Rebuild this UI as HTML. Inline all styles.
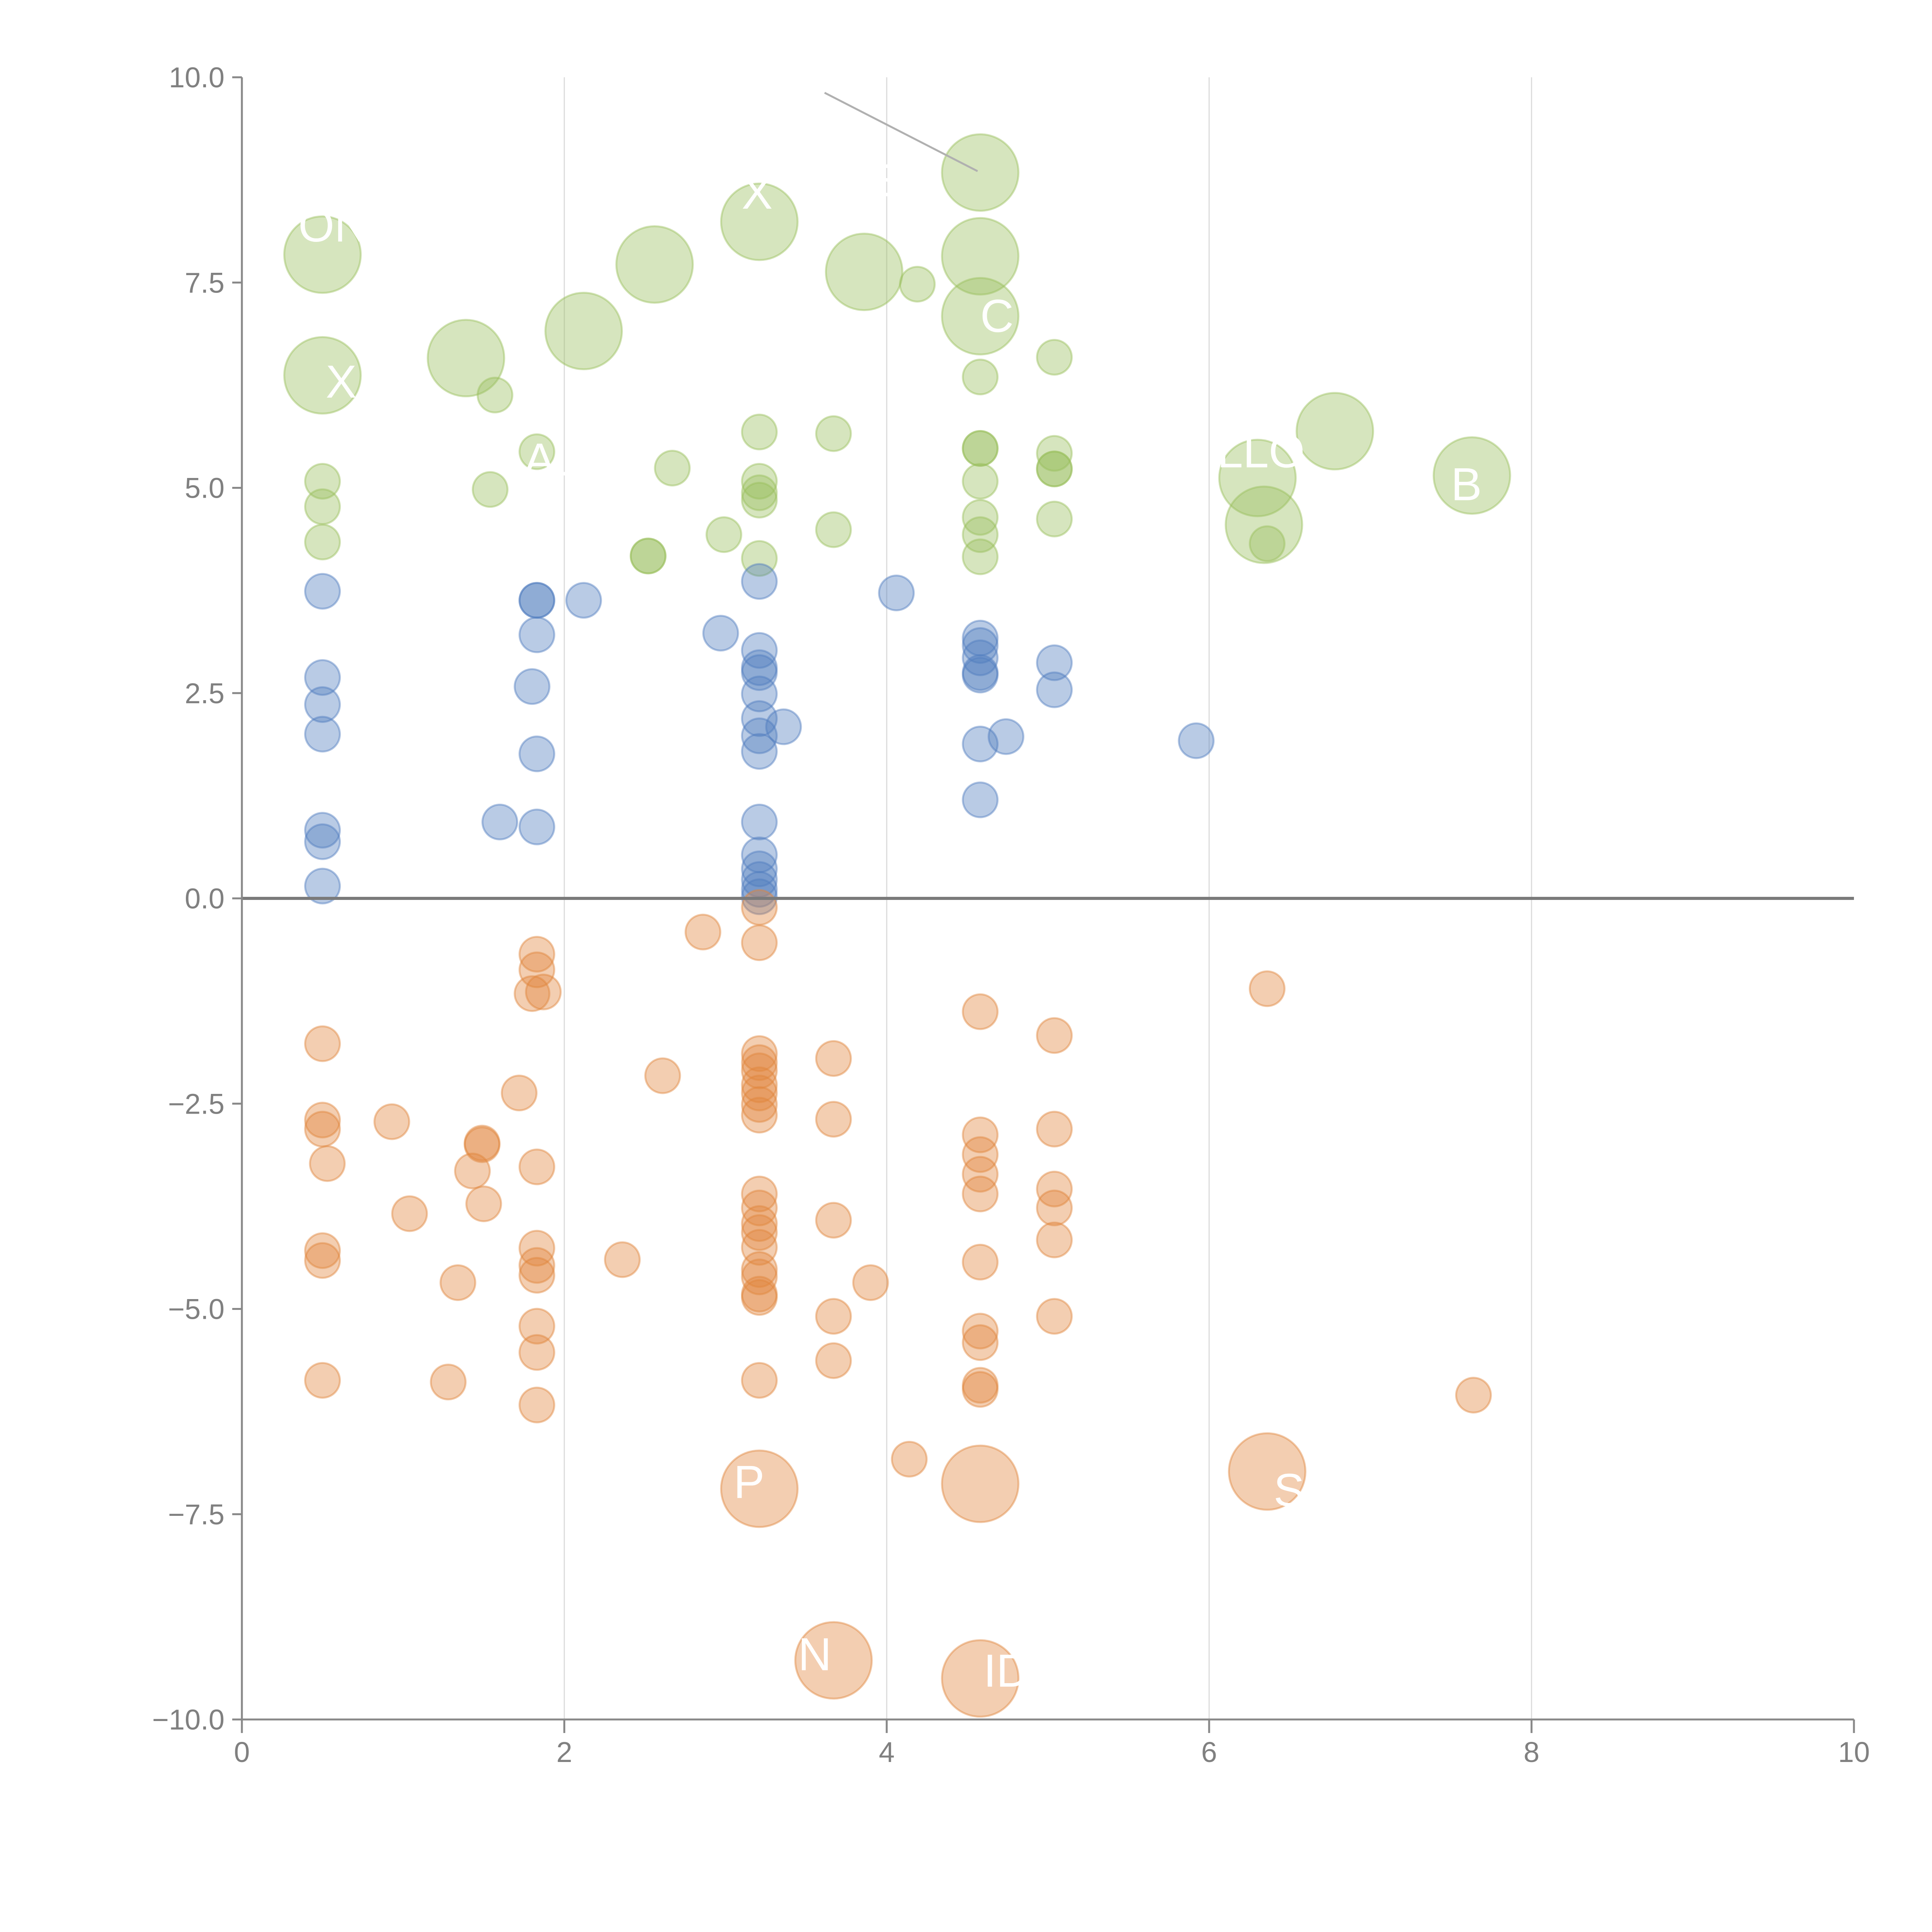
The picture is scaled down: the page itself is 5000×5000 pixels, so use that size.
<!DOCTYPE html>
<html><head><meta charset="utf-8"><style>
html,body{margin:0;padding:0;background:#fff}
svg{display:block}
text{font-family:"Liberation Sans",Arial,sans-serif}
</style></head><body>
<svg id="chart" width="5000" height="5000" viewBox="0 0 5000 5000" xmlns="http://www.w3.org/2000/svg">
<rect width="5000" height="5000" fill="#fff"/>
<g id="grid"></g>
<g id="points"></g>
<g id="axes"></g>
<g id="labels"></g>
</svg>
<script>
const xTicks=[0,2,4,6,8,10];
const yTicks=[10,7.5,5,2.5,0,-2.5,-5,-7.5,-10];
const yTickLabels=["10.0","7.5","5.0","2.5","0.0","−2.5","−5.0","−7.5","−10.0"];
const greenX=[0.5,0.5,0.5,0.5,0.5,1.39,1.57,1.54,1.83,2.12,2.56,2.67,2.52,2.52,2.99,3.21,3.21,3.21,3.21,3.21,3.21,3.67,3.67,3.86,4.19,4.58,4.58,4.58,4.58,4.58,4.58,4.58,4.58,4.58,4.58,5.04,5.04,5.04,5.04,5.04,6.30,6.34,6.36,6.78,7.63];
const greenY=[7.84,6.37,5.08,4.77,4.34,6.58,6.13,4.98,5.44,6.91,7.72,5.24,4.17,4.17,4.43,8.24,5.68,5.08,4.94,4.85,4.14,5.66,4.49,7.63,7.48,8.84,7.82,7.09,6.35,5.48,5.48,5.08,4.64,4.43,4.16,6.59,5.42,5.23,5.23,4.62,5.12,4.55,4.32,5.69,5.15];
const greenS=[2,2,1,1,1,2,1,1,1,2,2,1,1,1,1,2,1,1,1,1,1,1,1,2,1,2,2,2,1,1,1,1,1,1,1,1,1,1,1,1,2,2,1,2,2];
const blueX=[0.5,0.5,0.5,0.5,0.5,0.5,0.5,1.60,1.83,1.83,1.83,1.80,1.83,1.83,2.12,2.97,3.21,3.21,3.21,3.21,3.21,3.21,3.21,3.21,3.36,3.21,3.21,3.21,3.21,3.21,3.21,4.06,4.58,4.58,4.58,4.58,4.58,4.58,4.58,4.74,5.04,5.04,5.92];
const blueY=[3.74,2.69,2.36,2.0,0.83,0.69,0.15,0.93,3.63,3.63,3.21,2.58,1.76,0.87,3.63,3.23,3.86,3.02,2.81,2.75,2.49,2.19,1.98,1.79,2.09,0.93,0.53,0.36,0.23,0.11,0.02,3.72,3.17,3.08,2.93,2.75,2.72,1.88,1.20,1.97,2.87,2.54,1.92];
const orangeX=[0.5,0.5,0.5,0.53,0.5,0.5,0.5,0.93,1.04,1.28,1.34,1.43,1.49,1.49,1.50,1.72,1.83,1.83,1.80,1.87,1.83,1.83,1.83,1.83,1.83,1.83,1.83,2.36,2.61,2.86,3.21,3.21,3.21,3.21,3.21,3.21,3.21,3.21,3.21,3.21,3.21,3.21,3.21,3.21,3.21,3.21,3.21,3.21,3.21,3.67,3.67,3.67,3.67,3.67,3.90,4.14,4.58,4.58,4.58,4.58,4.58,4.58,4.58,4.58,4.58,4.58,5.04,5.04,5.04,5.04,5.04,5.04,6.36,7.64,3.21,3.67,4.58,4.58,6.36];
const orangeY=[-1.77,-2.70,-2.81,-3.23,-4.29,-4.41,-5.87,-2.72,-3.84,-5.89,-4.68,-3.32,-2.98,-3.0,-3.72,-2.37,-0.68,-0.87,-1.16,-1.14,-3.27,-4.26,-4.47,-4.59,-5.21,-5.53,-6.17,-4.40,-2.16,-0.41,-0.11,-0.54,-1.89,-2.0,-2.1,-2.27,-2.37,-2.51,-2.64,-3.6,-3.77,-3.96,-4.07,-4.25,-4.52,-4.61,-4.82,-4.86,-5.87,-1.95,-2.69,-3.92,-5.09,-5.63,-4.68,-6.83,-1.38,-2.88,-3.12,-3.36,-3.6,-4.43,-5.27,-5.41,-5.93,-5.98,-1.67,-2.81,-3.54,-3.77,-4.16,-5.09,-1.10,-6.05,-7.19,-9.28,-7.13,-9.50,-6.98];
const orangeS=orangeX.map((v,i)=>i>=74?2:1);

const NS="http://www.w3.org/2000/svg";
const X0=626,X1=4798,Y0=4450,Y1=200;
const xs=v=>X0+(v-0)/(10-0)*(X1-X0);
const ys=v=>Y0-(v+10)/20*(Y0-Y1);
const rs=s=>s===2?99:45;
function mk(tag,attrs,parent){const e=document.createElementNS(NS,tag);for(const k in attrs)e.setAttribute(k,attrs[k]);parent.appendChild(e);return e;}
const grid=document.getElementById('grid'),pts=document.getElementById('points'),axes=document.getElementById('axes'),labs=document.getElementById('labels');
[2,4,6,8].forEach(v=>{const l=mk('line',{x1:xs(v),x2:xs(v),y1:Y1,y2:Y0,stroke:'#dcdcdc','stroke-width':3},grid);

});
function series(xa,ya,sa,color,name){xa.forEach((x,i)=>{const c=mk('circle',{cx:xs(x),cy:ys(ya[i]),r:rs(sa[i]),fill:color,'fill-opacity':0.4,stroke:color,'stroke-opacity':0.45,'stroke-width':5},pts);

});}
series(greenX,greenY,greenS,'#98bf5c','green-point');
series(blueX,blueY,blueX.map(()=>1),'#4f7dbf','blue-point');
series(orangeX,orangeY,orangeS,'#e1843c','orange-point');
// zero line
const z=mk('line',{x1:X0,x2:X1,y1:ys(0),y2:ys(0),stroke:'#7a7a7a','stroke-width':8},axes);


const ya=mk('line',{x1:X0,x2:X0,y1:Y1,y2:Y0,stroke:'#888','stroke-width':5},axes);


const xa=mk('line',{x1:X0,x2:X1,y1:Y0,y2:Y0,stroke:'#888','stroke-width':5},axes);


yTicks.forEach((v,i)=>{const t=mk('line',{x1:X0-25,x2:X0,y1:ys(v),y2:ys(v),stroke:'#888','stroke-width':5},axes);


const tx=mk('text',{x:X0-45,y:ys(v)+26,'text-anchor':'end','font-size':74,fill:'#808080'},axes);tx.textContent=yTickLabels[i];

});
xTicks.forEach(v=>{const t=mk('line',{x1:xs(v),x2:xs(v),y1:Y0,y2:Y0+35,stroke:'#888','stroke-width':5},axes);


const tx=mk('text',{x:xs(v),y:Y0+110,'text-anchor':'middle','font-size':74,fill:'#808080'},axes);tx.textContent=String(v);

});
// leader line
const ll=mk('line',{x1:2134,y1:240,x2:2530,y2:443,stroke:'#b0b0b0','stroke-width':5},labs);


const lbls=[["ONI",0.35,8.0],["X",0.52,6.1],["AL",1.75,5.15],["X",3.1,8.4],["E",3.9,8.55],["C",4.58,6.9],["LLO",6.05,5.25],["P",3.05,-7.3],["N",3.45,-9.4],["ID",4.6,-9.6],["S",6.4,-7.4],["B",7.5,4.85]];
lbls.forEach(l=>{const t=mk('text',{x:xs(l[1]),y:ys(l[2]),'font-size':120,fill:'#fff'},labs);t.textContent=l[0];

});
</script>
</body></html>
